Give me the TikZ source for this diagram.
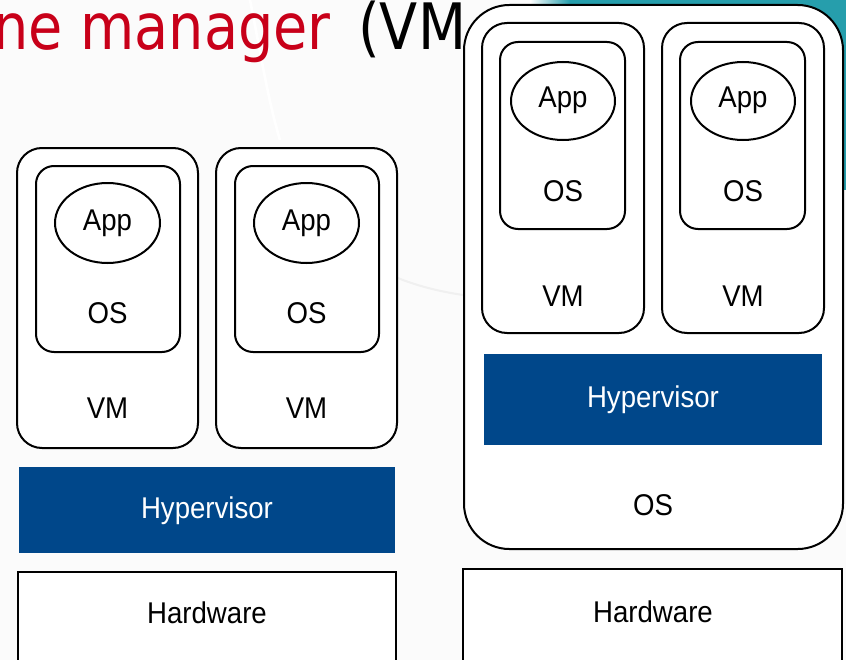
\documentclass[tikz,border=0pt]{standalone}
\usepackage{fontspec}
\setmainfont[FakeStretch=0.92]{Liberation Sans}
\newfontfamily\titlefont[FakeStretch=0.87]{DejaVu Sans}
\definecolor{hvblue}{RGB}{0,71,138}
\definecolor{slidered}{RGB}{200,0,25}
\definecolor{slideteal}{RGB}{38,158,172}

\tikzset{
  box/.style={draw,line width=1.5pt,fill=white},
  hv/.style={fill=hvblue},
  lbl/.style={font=\fontsize{22.5}{26}\selectfont,anchor=base,inner sep=0pt},
  ttl/.style={font=\titlefont\fontsize{48}{52}\selectfont,anchor=base west,inner sep=0pt},
}

\begin{document}
\begin{tikzpicture}[x=0.75pt,y=-0.75pt]
\clip (0,0) rectangle (846,660);
% slide background
\fill[gray!3] (0,0) rectangle (846,660);
\shade[left color=white,right color=slideteal] (530,0) rectangle (570,190);
\fill[slideteal] (570,0) rectangle (846,190);
\draw[white,line width=2pt] (250,0) .. controls (262,60) and (268,100) .. (280,140);
\draw[gray!12,line width=1.5pt] (380,270) .. controls (410,285) and (440,292) .. (470,296);
\node[ttl,text=slidered] (title) at (-7,50) {ne manager};
\node[ttl] (titlevm) at (358,50) {(VM};

% left: type 1
\foreach \i/\dx in {1/0,2/199}{
  \draw[box,rounded corners=18.75pt] (17+\dx,148) rectangle (198+\dx,448);
  \draw[box,rounded corners=13.5pt] (36+\dx,166) rectangle (180+\dx,352);
  \draw[box] (107.5+\dx,223) ellipse (52.5 and 40);
  \node[lbl] (appL\i) at (107.5+\dx,230) {App};
  \node[lbl] (osL\i) at (107.5+\dx,323) {OS};
  \node[lbl] (vmL\i) at (107.5+\dx,418) {VM};
}
\fill[hv] (19,467) rectangle (395,553);
\node[lbl,text=white] (hvL) at (207,518) {Hypervisor};
\draw[box] (18,572) rectangle (396,670);
\node[lbl] (hwL) at (207,623) {Hardware};

% right: type 2
\draw[box,rounded corners=34pt] (464,5) rectangle (843,549);
\foreach \i/\dx in {1/0,2/180}{
  \draw[box,rounded corners=18.75pt] (482+\dx,23) rectangle (644+\dx,333);
  \draw[box,rounded corners=13.5pt] (500+\dx,42) rectangle (625+\dx,229);
  \draw[box] (563+\dx,101) ellipse (52 and 39);
  \node[lbl] (appR\i) at (563+\dx,108) {App};
  \node[lbl] (osR\i) at (563+\dx,201) {OS};
  \node[lbl] (vmR\i) at (563+\dx,306) {VM};
}
\fill[hv] (484,354) rectangle (822,445);
\node[lbl,text=white] (hvR) at (653,407) {Hypervisor};
\node[lbl] (osR) at (653,515) {OS};
\draw[box] (463,569) rectangle (842,670);
\node[lbl] (hwR) at (653,622) {Hardware};
\end{tikzpicture}
\end{document}
